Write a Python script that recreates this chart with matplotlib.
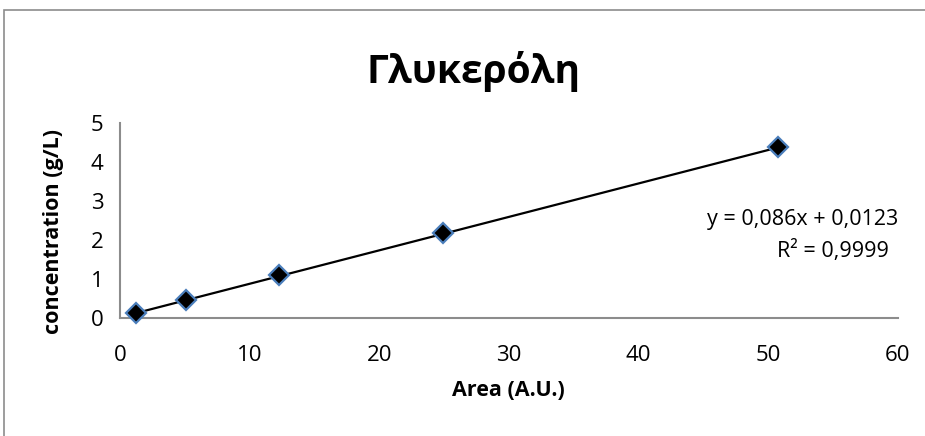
import numpy as np
import matplotlib
matplotlib.use("Agg")
import matplotlib.pyplot as plt
from matplotlib.patches import Rectangle

plt.rcParams['font.family'] = ['Open Sans', 'DejaVu Sans']

# calibration points
area = [1.2, 5.07, 12.27, 24.95, 50.75]
conc = [0.11, 0.45, 1.11, 2.19, 4.38]
slope = 0.086
intercept = 0.0123
eq_text = "y = 0,086x + 0,0123"
r2_text = "R² = 0,9999"
xticks = [0, 10, 20, 30, 40, 50, 60]
yticks = [0, 1, 2, 3, 4, 5]

W, H = 925, 436
fig = plt.figure(figsize=(W / 100, H / 100), dpi=100)
ax = fig.add_axes([120 / W, 1 - 317.7 / H, 777.7 / W, 194.4 / H])

# chart area border (only top/left visible in crop)
fig.patches.append(Rectangle((4 / W, -0.1), 1.2, 1 - 10 / H + 0.1,
                             transform=fig.transFigure, fill=False,
                             edgecolor='#8c8c8c', lw=1.2))

xs = np.array([area[0], area[-1]])
ax.plot(xs, slope * xs + intercept, color='black', lw=1.6, zorder=2)
ax.plot(area, conc, linestyle='none', marker='D', markersize=10,
        markerfacecolor='black', markeredgecolor='#4a7ebb', markeredgewidth=1.6,
        zorder=3, clip_on=False)

ax.set_xlim(0, 60)
ax.set_ylim(0, 5)
ax.set_xticks(xticks)
ax.set_yticks(yticks)
ax.tick_params(length=0, labelsize=16)
ax.tick_params(axis='x', pad=20)
ax.tick_params(axis='y', pad=12)
for s in ['top', 'right']:
    ax.spines[s].set_visible(False)
for s in ['left', 'bottom']:
    ax.spines[s].set_color('#8c8c8c')
    ax.spines[s].set_linewidth(1.5)

ax.set_xlabel("Area (A.U.)", fontsize=15.5, fontweight='bold')
ax.set_ylabel("concentration (g/L)", fontsize=15.5, fontweight='bold')
ax.xaxis.set_label_coords((508 - 120) / 777.7, -(390 - 317.7) / 194.4)
ax.yaxis.set_label_coords(-(120 - 54) / 777.7, (317.7 - 232) / 194.4)
ax.xaxis.label.set_va('center')
ax.yaxis.label.set_va('center')

fig.text(473 / W, 1 - 72 / H, "Γλυκερόλη", fontsize=28, fontweight='bold',
         ha='center', va='center')
fig.text(803 / W, 1 - 219 / H, eq_text, fontsize=15.5, ha='center', va='center')
fig.text(833 / W, 1 - 251 / H, r2_text, fontsize=15.5, ha='center', va='center')

fig.savefig("out.png", dpi=100)
